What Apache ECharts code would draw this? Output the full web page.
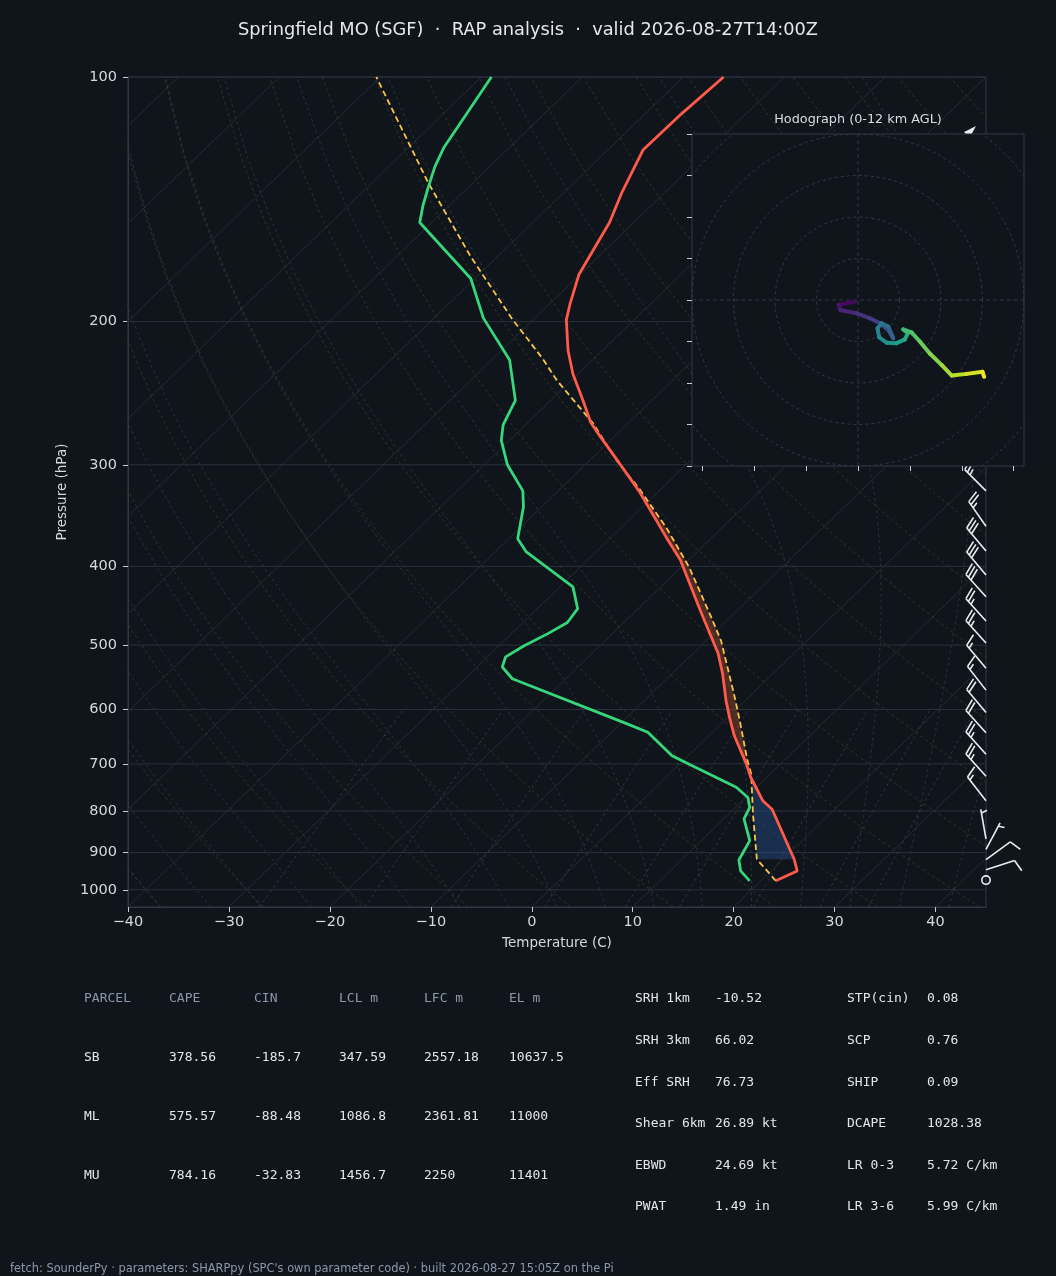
<!DOCTYPE html>
<html>
<head>
<meta charset="utf-8">
<script src="https://cdn.jsdelivr.net/npm/echarts@6/dist/echarts.min.js"></script>
<style>
html, body { margin: 0; padding: 0; background: #10141b; }
#main { width: 1056px; height: 1276px; }
</style>
</head>
<body>
<div id="main"></div>
<script>
var myChart = echarts.init(document.getElementById('main'));

// sounding profiles (hPa, degC)
var tempP = [975, 948, 917, 796, 777, 727, 700, 646, 614, 585, 542, 512, 453, 393, 368, 323, 298, 276, 266, 250, 232, 217, 199, 190, 175, 159, 151, 139, 123, 111, 100];
var tempC = [21.5, 22.6, 21.1, 13.8, 12.0, 8.4, 6.6, 2.5, 0.2, -1.9, -5.0, -7.5, -13.7, -20.8, -24.6, -32.0, -36.9, -41.6, -43.8, -46.8, -50.5, -53.4, -56.7, -58.0, -60.1, -61.6, -62.4, -64.2, -66.5, -66.4, -66.0];
var dewP = [975, 948, 919, 870, 818, 792, 770, 748, 704, 684, 640, 625, 550, 532, 517, 501, 484, 469, 451, 424, 384, 370, 338, 323, 300, 280, 268, 250, 223, 198, 177, 151, 144, 137, 129, 122, 100];
var dewC = [18.9, 17.0, 15.7, 14.8, 12.0, 11.4, 10.2, 8.0, 1.5, -1.6, -6.4, -9.3, -25.3, -27.5, -28.2, -27.5, -26.4, -25.6, -26.0, -28.7, -36.9, -39.1, -41.8, -43.5, -47.7, -50.8, -52.2, -53.5, -58.2, -65.1, -70.4, -81.2, -82.6, -83.9, -85.4, -86.5, -89.0];
var parcelP = [975, 917, 807, 720, 694, 619, 574, 494, 462, 401, 358, 321, 296, 267, 236, 222, 199, 166.5, 135, 100];
var parcelC = [21.5, 17.4, 12.4, 8.1, 6.4, 1.5, -1.8, -8.5, -11.9, -19.2, -25.6, -32.2, -37.4, -43.4, -51.5, -55.1, -62.0, -72.6, -84.4, -100.4];
var cinLayer = [700, 917];   // LFC .. LCL
var capeLayer = [276, 700];  // EL .. LFC

// wind barbs (hPa, kt, deg)
var barbP = [124, 145, 170, 198, 230, 262, 290, 323, 357, 383, 410, 436, 467, 497, 534, 568, 605, 641, 681, 725, 777, 866, 892, 918, 945, 973];
var barbSpd = [50, 45, 45, 40, 40, 35, 35, 25, 25, 30, 30, 30, 25, 25, 15, 15, 20, 20, 25, 25, 15, 5, 5, 10, 10, 0];
var barbDir = [315, 300, 300, 300, 305, 305, 310, 315, 325, 320, 320, 318, 318, 318, 320, 322, 320, 318, 318, 318, 322, 350, 28, 54, 72, 0];

// hodograph (kt)
var hodoU = [-0.7, -4.7, -4.3, -0.3, 2.9, 5.3, 7.3, 8.5, 7.3, 5.7, 4.7, 5.1, 6.9, 9.3, 11.3, 12.0, 10.9, 12.9, 14.9, 17.3, 20.2, 22.6, 26.2, 30.0, 30.4];
var hodoV = [-0.4, -1.2, -2.4, -3.2, -4.4, -5.6, -7.2, -9.2, -6.4, -5.6, -6.8, -9.0, -10.3, -10.4, -9.5, -8.0, -7.1, -7.8, -10.0, -12.9, -15.7, -18.2, -17.8, -17.3, -18.5];
var hodoRings = [10, 20, 30, 40, 50];
var hodoXTicks = [-37.5, -25, -12.5, 0, 12.5, 25, 37.5];

// reference lines
var isobars = [100, 200, 300, 400, 500, 600, 700, 800, 900, 1000];
var tempTicks = [-40, -30, -20, -10, 0, 10, 20, 30, 40];
var isotherms = [-120, -110, -100, -90, -80, -70, -60, -50, -40, -30, -20, -10, 0, 10, 20, 30, 40];
var dryTheta = [-40, -30, -20, -10, 0, 10, 20, 30, 40, 50, 60, 70, 80, 90, 100, 110, 120, 130, 140, 150, 160, 170, 180, 190, 200];
var moistT0 = [-40, -35, -30, -25, -20, -15, -10, -5, 0, 5, 10, 15, 20, 25, 30, 35, 40];
var mixRatio = [0.4, 1, 2, 4, 7, 10, 16, 24, 32];

// tables
var parcelHdr = ['PARCEL', 'CAPE', 'CIN', 'LCL m', 'LFC m', 'EL m'];
var parcelRows = [
	['SB', '378.56', '-185.7', '347.59', '2557.18', '10637.5'],
	['ML', '575.57', '-88.48', '1086.8', '2361.81', '11000'],
	['MU', '784.16', '-32.83', '1456.7', '2250', '11401']
];
var paramLeft = [['SRH 1km', '-10.52'], ['SRH 3km', '66.02'], ['Eff SRH', '76.73'], ['Shear 6km', '26.89 kt'], ['EBWD', '24.69 kt'], ['PWAT', '1.49 in']];
var paramRight = [['STP(cin)', '0.08'], ['SCP', '0.76'], ['SHIP', '0.09'], ['DCAPE', '1028.38'], ['LR 0-3', '5.72 C/km'], ['LR 3-6', '5.99 C/km']];

var P_BOT = 1050, P_TOP = 100, T_MIN = -40, T_MAX = 45;
var BG = '#10141b';
var TXT = '#d5d9de';

// skew: 45 deg in axes space
function skewX(t, p) {
	return t + (T_MAX - T_MIN) * Math.log(P_BOT / p) / Math.log(P_BOT / P_TOP);
}
function toXY(ps, ts) {
	return ps.map(function (p, i) { return [skewX(ts[i], p), p]; });
}

var refP = [];
for (var p = 1050; p >= 100; p -= 25) refP.push(p);

function moistLapse(p, T) {
	var Tc = T - 273.15;
	var es = 6.112 * Math.exp(17.67 * Tc / (Tc + 243.5));
	var rs = 0.622 * es / (p - es);
	var Rd = 287.04, Cp = 1005.7, Lv = 2.501e6;
	return (1 / p) * (Rd * T + Lv * rs) / (Cp + (Lv * Lv * rs * 0.622) / (Rd * T * T));
}
function moistLine(t0) {
	var store = {};
	var T = t0 + 273.15;
	store[1000] = T;
	for (var p = 1000; p > 100; p -= 5) {
		var k1 = moistLapse(p, T);
		var k2 = moistLapse(p - 2.5, T - 2.5 * k1);
		T = T - 5 * k2;
		store[p - 5] = T;
	}
	T = t0 + 273.15;
	for (var p2 = 1000; p2 < 1050; p2 += 5) {
		var a = moistLapse(p2, T);
		var b = moistLapse(p2 + 2.5, T + 2.5 * a);
		T = T + 5 * b;
		store[p2 + 5] = T;
	}
	return refP.map(function (pp) { return [skewX(store[pp] - 273.15, pp), pp]; });
}

var series = [];
function refLine(data, color, type, width) {
	series.push({
		type: 'line', xAxisIndex: 0, yAxisIndex: 0, data: data,
		symbol: 'none', silent: true, z: 1, animation: false,
		lineStyle: { color: color, width: width, type: type }
	});
}

isobars.forEach(function (p) { refLine([[T_MIN, p], [T_MAX, p]], '#28313c', 'solid', 1); });
isotherms.forEach(function (t) { refLine([[skewX(t, P_BOT), P_BOT], [skewX(t, P_TOP), P_TOP]], '#252c35', 'solid', 1); });
dryTheta.forEach(function (th) {
	refLine(refP.map(function (p) {
		return [skewX((th + 273.15) * Math.pow(p / 1000, 0.2857) - 273.15, p), p];
	}), '#3b352a', [3, 3], 0.9);
});
moistT0.forEach(function (t0) { refLine(moistLine(t0), '#243a44', [3, 3], 0.9); });
mixRatio.forEach(function (w) {
	var pts = [];
	for (var p = 1050; p >= 600; p -= 25) {
		var e = (w / 1000) * p / (0.622 + w / 1000);
		var l = Math.log(e / 6.112);
		pts.push([skewX(243.5 * l / (17.67 - l), p), p]);
	}
	refLine(pts, '#26404b', [3, 3], 0.9);
});

// CAPE / CIN shading between the environment and the parcel
function layerPoly(layer) {
	var lo = layer[0], hi = layer[1];
	var env = [], par = [];
	tempP.forEach(function (p, i) { if (p >= lo && p <= hi) env.push([skewX(tempC[i], p), p]); });
	parcelP.forEach(function (p, i) { if (p >= lo && p <= hi) par.push([skewX(parcelC[i], p), p]); });
	env.sort(function (a, b) { return b[1] - a[1]; });
	par.sort(function (a, b) { return a[1] - b[1]; });
	return env.concat(par);
}
function fillSeries(poly, color) {
	series.push({
		type: 'custom', xAxisIndex: 0, yAxisIndex: 0, z: 2, silent: true, animation: false,
		data: [poly[0]],
		renderItem: function (params, api) {
			return {
				type: 'polygon',
				shape: { points: poly.map(function (d) { return api.coord(d); }) },
				style: { fill: color }
			};
		}
	});
}
fillSeries(layerPoly(cinLayer), 'rgba(40,80,140,0.45)');
fillSeries(layerPoly(capeLayer), 'rgba(150,70,45,0.45)');

series.push({
	name: 'Parcel', type: 'line', xAxisIndex: 0, yAxisIndex: 0, z: 4, symbol: 'none', animation: false,
	data: toXY(parcelP, parcelC),
	lineStyle: { color: '#f7c548', width: 1.8, type: [6, 3.5] }
});
series.push({
	name: 'Dewpoint', type: 'line', xAxisIndex: 0, yAxisIndex: 0, z: 5, symbol: 'none', animation: false,
	data: toXY(dewP, dewC),
	lineStyle: { color: '#36d67b', width: 2.8 }
});
series.push({
	name: 'Temperature', type: 'line', xAxisIndex: 0, yAxisIndex: 0, z: 5, symbol: 'none', animation: false,
	data: toXY(tempP, tempC),
	lineStyle: { color: '#ff5a4a', width: 2.8 }
});

// wind barbs on the right edge
series.push({
	type: 'custom', xAxisIndex: 0, yAxisIndex: 0, z: 4, silent: true, animation: false,
	data: barbP.map(function (p, i) { return [T_MAX, p, barbSpd[i], barbDir[i]]; }),
	encode: { x: 0, y: 1 },
	renderItem: function (params, api) {
		var pt = api.coord([api.value(0), api.value(1)]);
		var spd = api.value(2), dir = api.value(3) * Math.PI / 180;
		var col = '#e9edf2';
		var L = 30, LW = 1.6;
		if (spd < 2.5) {
			return { type: 'circle', shape: { cx: pt[0], cy: pt[1], r: 0.14 * L }, style: { stroke: col, fill: null, lineWidth: LW } };
		}
		var dx = Math.sin(dir), dy = -Math.cos(dir);
		var nx = -dy, ny = dx;
		var tx = pt[0] + dx * L, ty = pt[1] + dy * L;
		var kids = [{ type: 'line', shape: { x1: pt[0], y1: pt[1], x2: tx, y2: ty }, style: { stroke: col, lineWidth: LW } }];
		var s = Math.round(spd / 5) * 5;
		var flags = Math.floor(s / 50); s -= flags * 50;
		var full = Math.floor(s / 10); s -= full * 10;
		var half = s >= 5 ? 1 : 0;
		var H = 0.4 * L, W = 0.25 * L, SP = 0.125 * L;
		var off = 0;
		function at(o) { return [tx - dx * o, ty - dy * o]; }
		for (var f = 0; f < flags; f++) {
			var a = at(off), c = at(off + W), m = at(off + W / 2);
			kids.push({ type: 'polygon', shape: { points: [a, [m[0] + nx * H, m[1] + ny * H], c] }, style: { fill: col } });
			off += W + SP / 2;
		}
		for (var b = 0; b < full; b++) {
			var q = at(off);
			kids.push({ type: 'line', shape: { x1: q[0], y1: q[1], x2: q[0] + nx * H + dx * W / 2, y2: q[1] + ny * H + dy * W / 2 }, style: { stroke: col, lineWidth: LW } });
			off += SP;
		}
		if (half) {
			if (flags === 0 && full === 0) off += SP;
			var h = at(off);
			kids.push({ type: 'line', shape: { x1: h[0], y1: h[1], x2: h[0] + nx * H / 2 + dx * W / 4, y2: h[1] + ny * H / 2 + dy * W / 4 }, style: { stroke: col, lineWidth: LW } });
		}
		return { type: 'group', children: kids };
	}
});

// hodograph
hodoRings.forEach(function (r) {
	var pts = [];
	for (var a = 0; a <= 360; a += 4) pts.push([r * Math.cos(a * Math.PI / 180), r * Math.sin(a * Math.PI / 180)]);
	series.push({
		type: 'line', xAxisIndex: 1, yAxisIndex: 1, data: pts, symbol: 'none', silent: true, z: 6, animation: false,
		lineStyle: { color: '#323d4b', width: 0.9, type: [3, 3] }
	});
});
[[[-40, 0], [40, 0]], [[0, -40], [0, 40]]].forEach(function (d) {
	series.push({
		type: 'line', xAxisIndex: 1, yAxisIndex: 1, data: d, symbol: 'none', silent: true, z: 6, animation: false,
		lineStyle: { color: '#323d4b', width: 0.9, type: [4, 3] }
	});
});
var VIR = ['#440154', '#482878', '#3e4989', '#31688e', '#26828e', '#1f9e89', '#35b779', '#6ece58', '#b5de2b', '#fde725'];
function viridis(f) {
	f = Math.max(0, Math.min(1, f));
	var x = f * (VIR.length - 1), i = Math.floor(x);
	if (i >= VIR.length - 1) return VIR[VIR.length - 1];
	var t = x - i;
	var c0 = parseInt(VIR[i].slice(1), 16), c1 = parseInt(VIR[i + 1].slice(1), 16);
	var r = Math.round(((c0 >> 16) & 255) * (1 - t) + ((c1 >> 16) & 255) * t);
	var g = Math.round(((c0 >> 8) & 255) * (1 - t) + ((c1 >> 8) & 255) * t);
	var bb = Math.round((c0 & 255) * (1 - t) + (c1 & 255) * t);
	return 'rgb(' + r + ',' + g + ',' + bb + ')';
}
var hodoSeg = [];
for (var i = 1; i < hodoU.length; i++) {
	hodoSeg.push([hodoU[i - 1], hodoV[i - 1], hodoU[i], hodoV[i], (i - 0.5) / (hodoU.length - 1)]);
}
series.push({
	type: 'custom', xAxisIndex: 1, yAxisIndex: 1, z: 8, silent: true, animation: false,
	data: hodoSeg,
	encode: { x: [0, 2], y: [1, 3] },
	renderItem: function (params, api) {
		var a = api.coord([api.value(0), api.value(1)]);
		var b = api.coord([api.value(2), api.value(3)]);
		return {
			type: 'line', shape: { x1: a[0], y1: a[1], x2: b[0], y2: b[1] },
			style: { stroke: viridis(api.value(4)), lineWidth: 4, lineCap: 'round' }
		};
	}
});

// text blocks below the plot
var graphics = [];
function txt(x, y, s, color, font, align) {
	graphics.push({
		type: 'text', x: x, y: y, silent: true, z: 10,
		style: { text: s, fill: color, font: font, textAlign: align || 'left', textVerticalAlign: 'middle', align: align || 'left', verticalAlign: 'middle' }
	});
}
var MONO = '13px "DejaVu Sans Mono"';
var colX = [84, 169, 254, 339, 424, 509];
parcelHdr.forEach(function (h, j) { txt(colX[j], 999, h, '#8b98aa', MONO); });
parcelRows.forEach(function (row, r) {
	row.forEach(function (v, j) { txt(colX[j], 1058 + r * 59, v, '#e3e6ea', MONO); });
});
paramLeft.forEach(function (row, r) {
	txt(635, 999 + r * 41.6, row[0], '#e3e6ea', MONO);
	txt(715, 999 + r * 41.6, row[1], '#e3e6ea', MONO);
});
paramRight.forEach(function (row, r) {
	txt(847, 999 + r * 41.6, row[0], '#e3e6ea', MONO);
	txt(927, 999 + r * 41.6, row[1], '#e3e6ea', MONO);
});
txt(858, 120, 'Hodograph (0-12 km AGL)', '#d8dde3', '12.8px "DejaVu Sans"', 'center');
txt(10, 1269, 'fetch: SounderPy \u00b7 parameters: SHARPpy (SPC\'s own parameter code) \u00b7 built 2026-08-27 15:05Z on the Pi', '#8b98aa', '11.4px "DejaVu Sans"');

var option = {
	backgroundColor: BG,
	animation: false,
	textStyle: { fontFamily: 'DejaVu Sans' },
	title: {
		text: 'Springfield MO (SGF)  \u00b7  RAP analysis  \u00b7  valid 2026-08-27T14:00Z',
		left: 'center', top: 16,
		textStyle: { color: '#e6e8eb', fontSize: 17.8, fontWeight: 'normal', fontFamily: 'DejaVu Sans' }
	},
	grid: [
		{ left: 128, top: 77, width: 858, height: 830, show: true, borderColor: '#2e3846', borderWidth: 1, backgroundColor: 'transparent' },
		{ left: 692, top: 134, width: 332, height: 332, show: true, borderColor: '#2e3846', borderWidth: 1, backgroundColor: BG, z: 5 }
	],
	xAxis: [{
		type: 'value', gridIndex: 0, min: T_MIN, max: T_MAX, interval: 10,
		name: 'Temperature (C)', nameLocation: 'middle', nameGap: 29,
		nameTextStyle: { color: TXT, fontSize: 13.5 },
		axisLine: { show: true, onZero: false, lineStyle: { color: '#2e3846' } },
		axisTick: { show: true, length: 5, lineStyle: { color: '#c9ced6' }, customValues: tempTicks },
		axisLabel: {
			color: TXT, fontSize: 14.5, margin: 8, customValues: tempTicks,
			formatter: function (v) { return v < 0 ? '\u2212' + (-v) : String(v); }
		},
		splitLine: { show: false }
	}, {
		type: 'value', gridIndex: 1, min: -40, max: 40, z: 6, position: 'bottom',
		axisLine: { show: false, onZero: false },
		axisTick: { show: true, length: 5, lineStyle: { color: '#c9ced6' }, customValues: hodoXTicks },
		axisLabel: { show: false },
		splitLine: { show: false }
	}],
	yAxis: [{
		type: 'log', logBase: 10, gridIndex: 0, min: P_TOP, max: P_BOT, inverse: true, position: 'left',
		name: 'Pressure (hPa)', nameLocation: 'middle', nameGap: 58,
		nameTextStyle: { color: TXT, fontSize: 13.5 },
		axisLine: { show: true, onZero: false, lineStyle: { color: '#2e3846' } },
		axisTick: { show: true, length: 5, lineStyle: { color: '#c9ced6' }, customValues: isobars },
		axisLabel: {
			color: TXT, fontSize: 14.5, margin: 11, customValues: isobars,
			formatter: function (v) { return String(Math.round(v)); }
		},
		splitLine: { show: false }
	}, {
		type: 'value', gridIndex: 1, min: -40, max: 40, interval: 10, z: 6, position: 'left',
		axisLine: { show: false, onZero: false },
		axisTick: { show: true, length: 5, lineStyle: { color: '#c9ced6' } },
		axisLabel: { show: false },
		splitLine: { show: false }
	}],
	graphic: { elements: graphics },
	series: series
};

myChart.setOption(option);
</script>
</body>
</html>
